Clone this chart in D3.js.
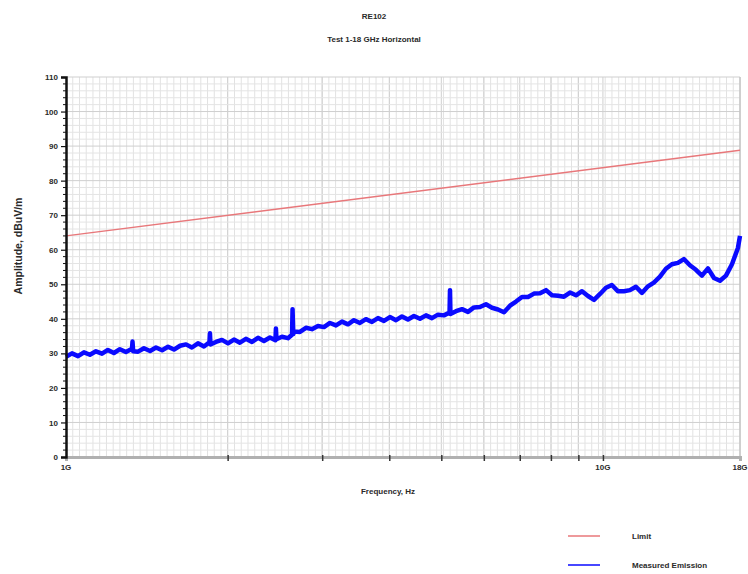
<!DOCTYPE html>
<html>
<head>
<meta charset="utf-8">
<script src="https://cdn.jsdelivr.net/npm/d3@7"></script>
<style>
  html, body { margin: 0; padding: 0; background: #fff; }
  text { font-family: "Liberation Sans", Arial, sans-serif; fill: #2a2a2a; }
</style>
</head>
<body>
<svg id="chart" width="748" height="574"></svg>
<script>
// RE102 radiated emissions, 1-18 GHz, horizontal antenna polarisation
const titleText = "RE102";
const subtitleText = "Test 1-18 GHz Horizontal";
const xLabel = "Frequency, Hz";
const yLabel = "Amplitude, dBuV/m";

const xTickValues = [1, 10, 18];            // GHz
const xTickLabels = ["1G", "10G", "18G"];
const xDecadeMarks = [2, 3, 4, 5, 6, 7, 8, 9, 10];
const yTicks = [0, 10, 20, 30, 40, 50, 60, 70, 80, 90, 100, 110];

// Limit line (GHz, dBuV/m)
const limitFreq = [1, 18];
const limitLevel = [64, 88.8];

// Measured emission sweep (GHz, dBuV/m)
const measFreq = [
  1.000, 1.026, 1.053, 1.080, 1.108, 1.137, 1.167, 1.197, 1.228, 1.260,
  1.293, 1.327, 1.330, 1.334, 1.362, 1.397, 1.434, 1.471, 1.510, 1.549,
  1.589, 1.631, 1.673, 1.716, 1.761, 1.807, 1.850, 1.854, 1.858, 1.902,
  1.952, 2.003, 2.055, 2.108, 2.163, 2.220, 2.278, 2.337, 2.398, 2.455,
  2.460, 2.466, 2.525, 2.590, 2.636, 2.642, 2.650, 2.658, 2.727, 2.798,
  2.871, 2.946, 3.023, 3.102, 3.183, 3.266, 3.351, 3.438, 3.527, 3.619,
  3.714, 3.811, 3.910, 4.012, 4.117, 4.224, 4.334, 4.447, 4.563, 4.682,
  4.804, 4.929, 5.058, 5.180, 5.190, 5.200, 5.325, 5.464, 5.606, 5.752,
  5.902, 6.056, 6.214, 6.376, 6.543, 6.713, 6.888, 7.067, 7.252, 7.441,
  7.635, 7.834, 8.038, 8.247, 8.462, 8.683, 8.910, 9.142, 9.380, 9.625,
  9.876, 10.13, 10.39, 10.66, 10.94, 11.23, 11.52, 11.82, 12.13, 12.44,
  12.77, 13.10, 13.44, 13.79, 14.15, 14.52, 14.90, 15.29, 15.69, 16.10,
  16.52, 16.95, 17.39, 17.84, 18.00
];
const measLevel = [
  29.0, 30.0, 29.2, 30.3, 29.6, 30.6, 29.9, 31.0, 30.1, 31.2,
  30.4, 31.3, 33.4, 30.6, 30.5, 31.5, 30.7, 31.7, 30.9, 31.9,
  31.1, 32.2, 32.6, 31.7, 32.9, 32.0, 33.2, 35.8, 32.6, 33.3,
  33.9, 32.9, 34.0, 33.1, 34.2, 33.3, 34.5, 33.6, 34.6, 33.8,
  37.2, 34.1, 34.8, 34.4, 35.4, 42.8, 35.6, 36.3, 36.2, 37.4,
  37.0, 37.9, 37.6, 38.8, 38.1, 39.2, 38.4, 39.6, 38.8, 39.9,
  39.1, 40.2, 39.4, 40.5, 39.6, 40.7, 39.8, 40.8, 40.0, 41.0,
  40.2, 41.2, 41.0, 41.8, 48.3, 41.4, 42.2, 42.8, 42.0, 43.3,
  43.4, 44.2, 43.2, 42.7, 41.9, 43.8, 45.0, 46.3, 46.3, 47.3,
  47.4, 48.3, 46.8, 46.7, 46.4, 47.6, 46.8, 48.0, 46.6, 45.5,
  47.2, 49.0, 49.8, 48.0, 48.0, 48.3, 49.3, 47.5, 49.4, 50.5,
  52.2, 54.5, 55.8, 56.2, 57.3, 55.5, 54.2, 52.5, 54.6, 51.8,
  51.0, 52.5, 55.8, 60.5, 64.0
];

const legendNames = ["Limit", "Measured Emission"];
const seriesColors = ["#e8777a", "#0a0aff"];

const svg = d3.select("#chart");
const margin = { left: 66, right: 8, top: 77, bottom: 117 };
const W = 748, H = 574;

const x = d3.scaleLog().domain([1, 18]).range([margin.left, W - margin.right]);
const y = d3.scaleLinear().domain([0, 110]).range([H - margin.bottom, margin.top]);

const plot = svg.append("g");

// background grid: uniform fine columns, darker per-GHz columns, 2 dB rows
const colScale = d3.scaleLinear().domain([0, 100]).range(x.range());
plot.append("g").selectAll("line").data(d3.range(1, 101)).join("line")
  .attr("x1", d => colScale(d)).attr("x2", d => colScale(d))
  .attr("y1", y(0)).attr("y2", y(110))
  .attr("stroke", "#e2e2e2").attr("stroke-width", 1);
plot.append("g").selectAll("line").data(xDecadeMarks).join("line")
  .attr("x1", d => x(d)).attr("x2", d => x(d))
  .attr("y1", y(0)).attr("y2", y(110))
  .attr("stroke", "#cfcfcf").attr("stroke-width", 1);
plot.append("g").selectAll("line").data(d3.range(2, 111, 2)).join("line")
  .attr("x1", x(1)).attr("x2", x(18))
  .attr("y1", d => y(d)).attr("y2", d => y(d))
  .attr("stroke", d => d % 10 === 0 ? "#cfcfcf" : "#e4e4e4").attr("stroke-width", 1);
// right edge
plot.append("line")
  .attr("x1", x(18)).attr("x2", x(18)).attr("y1", y(0)).attr("y2", y(110))
  .attr("stroke", "#c4c4c4").attr("stroke-width", 1.5);

// series
const line = d3.line().x(d => x(d[0])).y(d => y(d[1]));
plot.append("path")
  .datum(limitFreq.map((f, i) => [f, limitLevel[i]]))
  .attr("d", line).attr("fill", "none")
  .attr("stroke", seriesColors[0]).attr("stroke-width", 1.4);
plot.append("path")
  .datum(measFreq.map((f, i) => [f, measLevel[i]]))
  .attr("d", line).attr("fill", "none")
  .attr("stroke", seriesColors[1]).attr("stroke-width", 4.5)
  .attr("stroke-linejoin", "round");

// bottom axis
const xAxis = d3.axisBottom(x).tickValues(xDecadeMarks).tickSize(4).tickFormat("");
const gx = svg.append("g").attr("transform", `translate(0,${y(0)})`).call(xAxis);
gx.select(".domain").attr("stroke", "#b0b0b0").attr("stroke-width", 3);
gx.selectAll(".tick line").attr("stroke", "#333").attr("stroke-width", 1.5).attr("y1", -2);
svg.append("g").selectAll("text").data(xTickValues).join("text")
  .attr("x", d => x(d)).attr("y", y(0) + 13)
  .attr("text-anchor", "middle").attr("font-size", 8).attr("font-weight", "bold")
  .text((d, i) => xTickLabels[i]);

// left axis
const yAxis = d3.axisLeft(y).tickValues(yTicks).tickSize(5).tickPadding(3);
const gy = svg.append("g").attr("transform", `translate(${x(1)},0)`).call(yAxis);
gy.select(".domain").attr("stroke", "#111").attr("stroke-width", 2.5);
gy.selectAll(".tick line").attr("stroke", "#111").attr("stroke-width", 1.2);
gy.selectAll(".tick text").attr("font-size", 8).attr("font-weight", "bold")
  .attr("font-family", "Liberation Sans, Arial, sans-serif").attr("fill", "#2a2a2a");
svg.append("g").selectAll("line").data(d3.range(2, 110, 2).filter(d => d % 10 !== 0)).join("line")
  .attr("x1", x(1) - 3).attr("x2", x(1))
  .attr("y1", d => y(d)).attr("y2", d => y(d))
  .attr("stroke", "#111").attr("stroke-width", 1);

// titles
svg.append("text").attr("x", 374).attr("y", 19).attr("text-anchor", "middle")
  .attr("font-size", 8).attr("font-weight", "bold").text(titleText);
svg.append("text").attr("x", 374).attr("y", 42).attr("text-anchor", "middle")
  .attr("font-size", 8).attr("font-weight", "bold").text(subtitleText);
svg.append("text").attr("x", 388).attr("y", 494).attr("text-anchor", "middle")
  .attr("font-size", 8).attr("font-weight", "bold").text(xLabel);
svg.append("text").attr("transform", "translate(22,246) rotate(-90)")
  .attr("text-anchor", "middle").attr("font-size", 10.5).attr("font-weight", "bold")
  .text(yLabel);

// legend
const legend = svg.append("g").selectAll("g").data(legendNames).join("g")
  .attr("transform", (d, i) => `translate(568,${536 + i * 29})`);
legend.append("line").attr("x1", 0).attr("x2", 32).attr("y1", 0).attr("y2", 0)
  .attr("stroke", (d, i) => seriesColors[i]).attr("stroke-width", 1.5);
legend.append("text").attr("x", 64).attr("y", 3).attr("font-size", 8)
  .attr("font-weight", "bold").text(d => d);
</script>
</body>
</html>
